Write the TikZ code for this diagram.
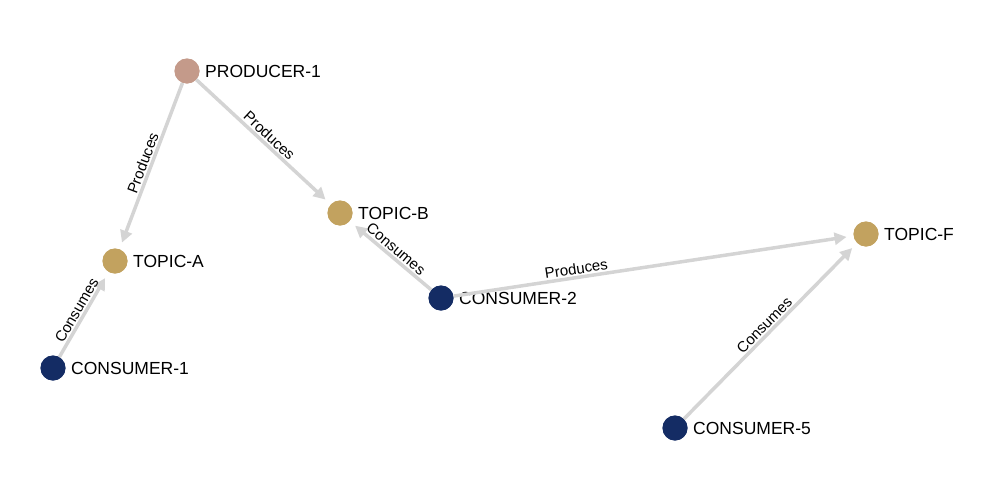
\documentclass[tikz,border=0pt]{standalone}
\usepackage{fontspec}
\setmainfont{Liberation Sans}
\usetikzlibrary{arrows.meta}
\definecolor{prodcol}{HTML}{C49A8A}
\definecolor{topiccol}{HTML}{C2A25F}
\definecolor{conscol}{HTML}{142C64}
\definecolor{edgecol}{HTML}{D4D4D4}
\tikzset{
  vtx/.style={circle, minimum size=25pt, inner sep=0pt},
  producer/.style={vtx, fill=prodcol},
  topic/.style={vtx, fill=topiccol},
  consumer/.style={vtx, fill=conscol},
  vlabel/.style={label distance=2pt, font=\fontsize{17.5}{19}\selectfont},
  rel/.style={draw=edgecol, line width=3.5pt, -{Triangle[length=12pt,width=12pt]}, shorten >=7pt},
  rellabel/.style={sloped, above, inner sep=1.5pt, font=\fontsize{15}{16}\selectfont, text=black}
}
\begin{document}
\begin{tikzpicture}[x=1pt,y=-1pt]
\useasboundingbox (0,0) rectangle (999,488);
\node[producer, label={[vlabel]right:PRODUCER-1}] (p1) at (187,71) {};
\node[topic, label={[vlabel]right:TOPIC-A}] (ta) at (115,261) {};
\node[topic, label={[vlabel]right:TOPIC-B}] (tb) at (340,213) {};
\node[topic, label={[vlabel]right:TOPIC-F}] (tf) at (866,234) {};
\node[consumer, label={[vlabel]right:CONSUMER-1}] (c1) at (53,368) {};
\node[consumer, label={[vlabel]right:CONSUMER-2}] (c2) at (441,298) {};
\node[consumer, label={[vlabel]right:CONSUMER-5}] (c5) at (675,428) {};
\draw[rel] (p1) -- node[rellabel]{Produces} (ta);
\draw[rel] (p1) -- node[rellabel]{Produces} (tb);
\draw[rel] (c1) -- node[rellabel]{Consumes} (ta);
\draw[rel] (c2) -- node[rellabel]{Consumes} (tb);
\draw[rel] (c2) -- node[rellabel, pos=0.31]{Produces} (tf);
\draw[rel] (c5) -- node[rellabel]{Consumes} (tf);
\node[producer] at (p1) {};
\node[topic] at (ta) {};
\node[topic] at (tb) {};
\node[topic] at (tf) {};
\node[consumer] at (c1) {};
\node[consumer] at (c2) {};
\node[consumer] at (c5) {};
\end{tikzpicture}
\end{document}
